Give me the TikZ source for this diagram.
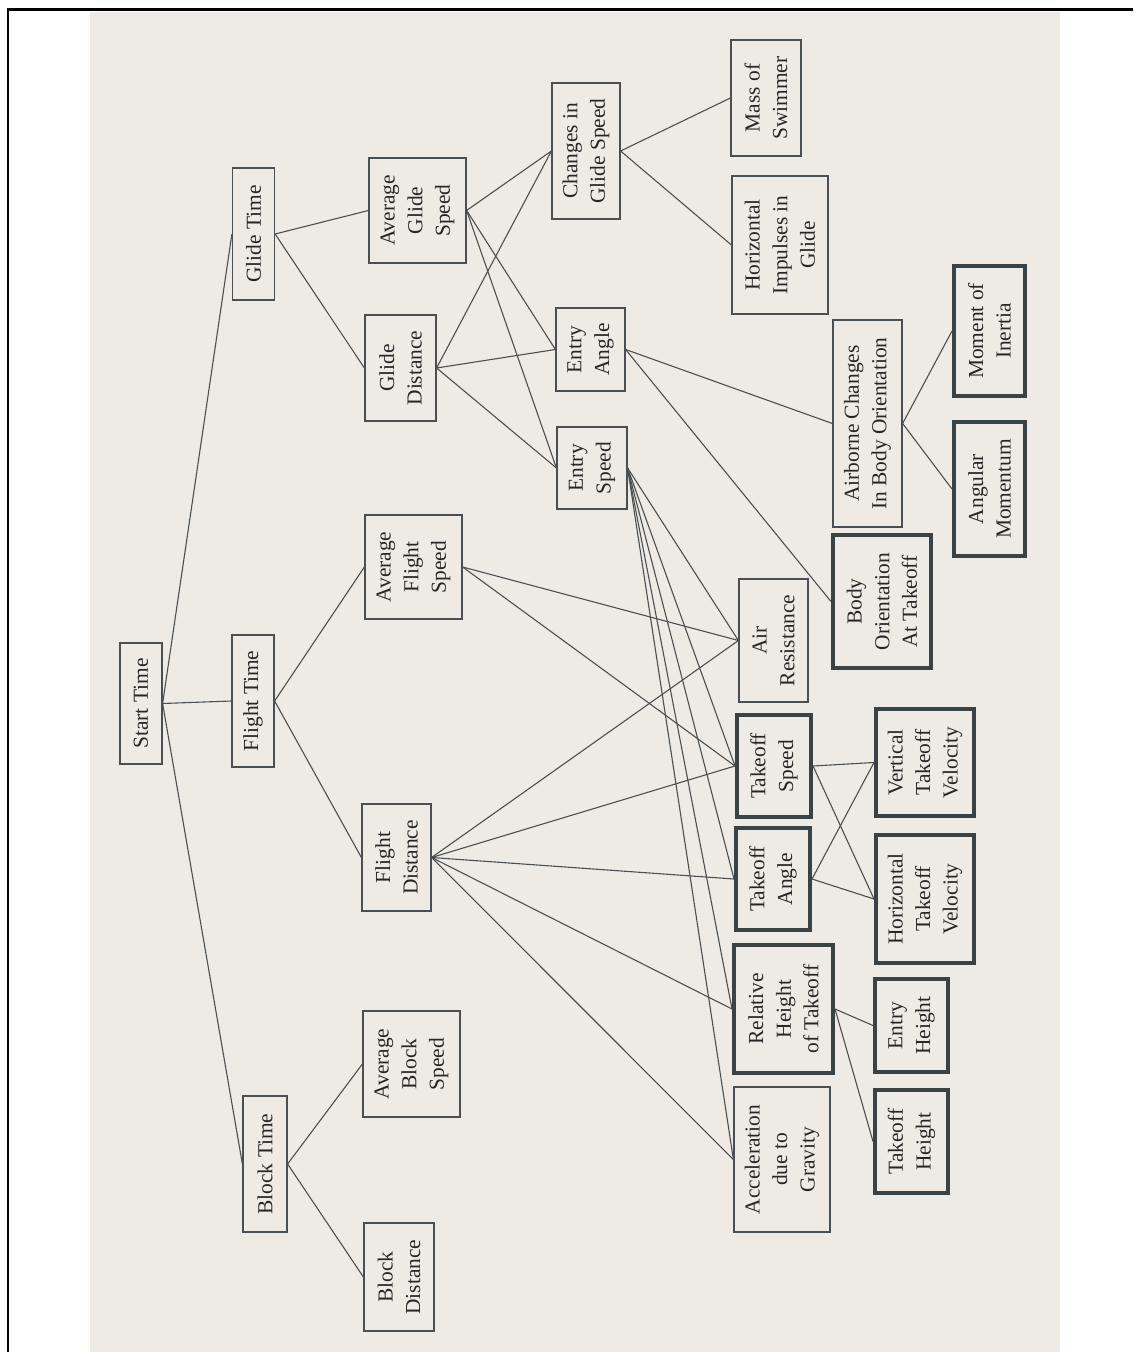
\documentclass[tikz,border=0pt]{standalone}
\usepackage{fontspec}
\setmainfont{Liberation Serif}

\definecolor{paper}{HTML}{EEEBE4}
\definecolor{ink}{HTML}{4A5052}
\definecolor{frame}{HTML}{394244}

\tikzset{sz/.style 2 args={minimum width=#1, minimum height=#2}}

\begin{document}
\begin{tikzpicture}[
    x=0.5pt, y=-0.5pt,
    fac/.style={draw=ink, line width=0.6pt, rotate=90, align=center, inner sep=1pt, text=black!85, font=\fontsize{10.7}{13.8}\selectfont},
    key/.style={fac, draw=frame, line width=2pt},
    link/.style={ink, line width=0.55pt}
]
    \useasboundingbox (0,0) rectangle (1133,1352);
    \fill[paper] (90,12) rectangle (1060,1352);
    \draw[line width=1.2pt] (8,1352) -- (8,9.5) -- (1133,9.5);

    \node[fac, sz={60.5pt}{21pt}] (start) at (141,703.5) {Start Time};
    \node[fac, sz={66pt}{21pt}] (glide) at (253.5,234) {Glide Time};
    \node[fac, sz={66pt}{21pt}] (flight) at (253,701) {Flight Time};
    \node[fac, sz={68pt}{22pt}] (block) at (265,1164) {Block Time};

    \node[fac, sz={52.5pt}{48.5pt}] (agspeed) at (417.5,210.5) {Average\\Glide\\Speed};
    \node[fac, sz={53pt}{35.5pt}] (gdist) at (400.5,368) {Glide\\Distance};
    \node[fac, sz={52pt}{48.5pt}] (afspeed) at (413.5,567) {Average\\Flight\\Speed};
    \node[fac, sz={53.5pt}{34.5pt}] (fdist) at (396.5,857.5) {Flight\\Distance};
    \node[fac, sz={53pt}{48.5pt}] (abspeed) at (411.5,1064) {Average\\Block\\Speed};
    \node[fac, sz={54pt}{35pt}] (bdist) at (399,1277) {Block\\Distance};

    \node[fac, sz={68pt}{34pt}] (cgspeed) at (586,151) {Changes in\\Glide Speed};
    \node[fac, sz={41.5pt}{34.5pt}] (eangle) at (590.5,349.5) {Entry\\Angle};
    \node[fac, sz={41pt}{35pt}] (espeed) at (592,468) {Entry\\Speed};

    \node[fac, sz={58pt}{35pt}] (mass) at (766,98) {Mass of\\Swimmer};
    \node[fac, sz={69pt}{48pt}] (himp) at (780,245) {Horizontal\\Impulses in\\Glide};
    \node[fac, sz={103.5pt}{34.5pt}] (airborne) at (867.5,423.5) {Airborne Changes\\In Body Orientation};
    \node[key, sz={65pt}{35.5pt}] (moment) at (989.5,331) {Moment of\\Inertia};
    \node[key, sz={67pt}{35.5pt}] (angular) at (989.5,489) {Angular\\Momentum};
    \node[key, sz={66.5pt}{49pt}] (bodyor) at (882,601.5) {Body\\Orientation\\At Takeoff};

    \node[fac, sz={61.5pt}{34.5pt}] (airres) at (773.5,640.5) {Air\\Resistance};
    \node[key, sz={51pt}{37pt}] (tospeed) at (774,766) {Takeoff\\Speed};
    \node[key, sz={51pt}{37pt}] (toangle) at (773,879) {Takeoff\\Angle};
    \node[key, sz={64pt}{49.5pt}] (relh) at (783.5,1009) {Relative\\Height\\of Takeoff};
    \node[fac, sz={72.5pt}{48pt}] (accel) at (782,1159.5) {Acceleration\\due to\\Gravity};

    \node[key, sz={53.5pt}{49pt}] (vtv) at (925,762.5) {Vertical\\Takeoff\\Velocity};
    \node[key, sz={64pt}{49pt}] (htv) at (925,899) {Horizontal\\Takeoff\\Velocity};
    \node[key, sz={46.5pt}{36.5pt}] (eheight) at (911.5,1025.5) {Entry\\Height};
    \node[key, sz={51.5pt}{36.5pt}] (theight) at (911.5,1141.5) {Takeoff\\Height};

    \draw[link] (start.south) -- (glide.north);
    \draw[link] (start.south) -- (flight.north);
    \draw[link] (start.south) -- (block.north);

    \draw[link] (glide.south) -- (agspeed.north);
    \draw[link] (glide.south) -- (gdist.north);
    \draw[link] (flight.south) -- (afspeed.north);
    \draw[link] (flight.south) -- (fdist.north);
    \draw[link] (block.south) -- (abspeed.north);
    \draw[link] (block.south) -- (bdist.north);

    \draw[link] (agspeed.south) -- (cgspeed.north);
    \draw[link] (agspeed.south) -- (eangle.north);
    \draw[link] (agspeed.south) -- (espeed.north);
    \draw[link] (gdist.south) -- (cgspeed.north);
    \draw[link] (gdist.south) -- (eangle.north);
    \draw[link] (gdist.south) -- (espeed.north);

    \draw[link] (cgspeed.south) -- (mass.north);
    \draw[link] (cgspeed.south) -- (himp.north);
    \draw[link] (eangle.south) -- (airborne.north);
    \draw[link] (eangle.south) -- (bodyor.north);
    \draw[link] (airborne.south) -- (moment.north);
    \draw[link] (airborne.south) -- (angular.north);

    \draw[link] (afspeed.south) -- (airres.north);
    \draw[link] (afspeed.south) -- (tospeed.north);
    \draw[link] (espeed.south) -- (airres.north);
    \draw[link] (espeed.south) -- (tospeed.north);
    \draw[link] (espeed.south) -- (toangle.north);
    \draw[link] (espeed.south) -- (relh.north);
    \draw[link] (espeed.south) -- (accel.north);
    \draw[link] (fdist.south) -- (airres.north);
    \draw[link] (fdist.south) -- (tospeed.north);
    \draw[link] (fdist.south) -- (toangle.north);
    \draw[link] (fdist.south) -- (relh.north);
    \draw[link] (fdist.south) -- (accel.north);

    \draw[link] (tospeed.south) -- (vtv.north);
    \draw[link] (tospeed.south) -- (htv.north);
    \draw[link] (toangle.south) -- (vtv.north);
    \draw[link] (toangle.south) -- (htv.north);
    \draw[link] (relh.south) -- (eheight.north);
    \draw[link] (relh.south) -- (theight.north);
\end{tikzpicture}
\end{document}
